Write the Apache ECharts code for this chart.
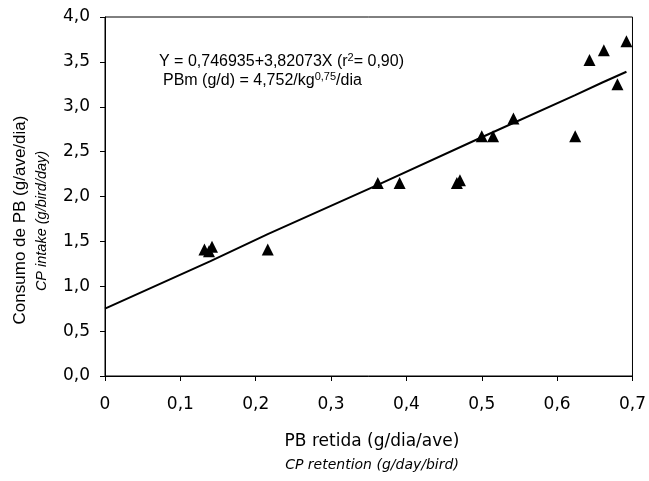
<!DOCTYPE html>
<html><head><meta charset="utf-8">
<script src="https://cdn.jsdelivr.net/npm/echarts@6/dist/echarts.min.js"></script>
<style>html,body{margin:0;padding:0;background:#fff}#c{width:649px;height:481px}</style>
</head><body><div id="c"></div>
<script>
var xValues = [0.132, 0.138, 0.142, 0.216, 0.362, 0.391, 0.467, 0.471, 0.500, 0.515, 0.542, 0.624, 0.643, 0.662, 0.680, 0.692];
var yValues = [1.41, 1.39, 1.44, 1.41, 2.15, 2.15, 2.15, 2.18, 2.67, 2.67, 2.87, 2.67, 3.52, 3.63, 3.25, 3.73];
var lineX = [0, 0.14, 0.216, 0.362, 0.5, 0.624, 0.66, 0.692];
var lineY = [0.75, 1.28, 1.58, 2.13, 2.66, 3.13, 3.27, 3.39];
var xTicks = ['0', '0,1', '0,2', '0,3', '0,4', '0,5', '0,6', '0,7'];
var yTicks = ['0,0', '0,5', '1,0', '1,5', '2,0', '2,5', '3,0', '3,5', '4,0'];

var pts = xValues.map(function (x, i) { return [x, yValues[i]]; });
var linePts = lineX.map(function (x, i) { return [x, lineY[i]]; });
var FONT = 'Liberation Sans, Arial, sans-serif';
var WIDE = 'DejaVu Sans, sans-serif';
var richEq = {
  a: {fontSize: 16, fontFamily: FONT, fill: '#000', lineHeight: 20, verticalAlign: 'middle'},
  s: {fontSize: 11, fontFamily: FONT, fill: '#000', lineHeight: 11, verticalAlign: 'top'}
};

var chart = echarts.init(document.getElementById('c'), null, {renderer: 'canvas'});
chart.setOption({
  animation: false,
  backgroundColor: '#fff',
  grid: {left: 105, right: 15, top: 17, bottom: 105, show: true, borderColor: '#000', borderWidth: 1, backgroundColor: 'transparent'},
  xAxis: {
    type: 'value', min: 0, max: 0.7, interval: 0.1,
    axisLine: {lineStyle: {color: '#000', width: 1}},
    axisTick: {show: true, inside: false, length: 5, lineStyle: {color: '#000'}},
    splitLine: {show: false},
    axisLabel: {color: '#000', fontSize: 17, fontFamily: WIDE, margin: 20,
      formatter: function (v) { return xTicks[Math.round(v * 10)]; }}
  },
  yAxis: {
    type: 'value', min: 0, max: 4, interval: 0.5,
    axisLine: {show: true, lineStyle: {color: '#000', width: 1}},
    axisTick: {show: true, inside: false, length: 5, lineStyle: {color: '#000'}},
    splitLine: {show: false},
    axisLabel: {color: '#000', fontSize: 17, fontFamily: WIDE, margin: 15,
      formatter: function (v) { return yTicks[Math.round(v * 2)]; }}
  },
  series: [
    {type: 'line', data: linePts, symbol: 'none', lineStyle: {color: '#000', width: 2}, z: 2},
    {type: 'scatter', data: pts, symbol: 'triangle', symbolSize: 12, itemStyle: {color: '#000', opacity: 1}, z: 3}
  ],
  graphic: [
    {type: 'text', left: 159, top: 52, style: {
      text: '{a|Y = 0,746935+3,82073X (r}{s|2}{a|= 0,90)}', rich: richEq}},
    {type: 'text', left: 163, top: 71, style: {
      text: '{a|PBm (g/d) = 4,752/kg}{s|0,75}{a|/dia}', rich: richEq}},
    {type: 'text', x: 20, y: 220, rotation: Math.PI / 2, style: {
      text: 'Consumo de PB (g/ave/dia)', fontSize: 17, fontFamily: FONT, fill: '#000', textAlign: 'center', textVerticalAlign: 'middle'}},
    {type: 'text', x: 42, y: 221, rotation: Math.PI / 2, style: {
      text: 'CP intake (g/bird/day)', fontSize: 14.5, fontStyle: 'italic', fontFamily: FONT, fill: '#000', textAlign: 'center', textVerticalAlign: 'middle'}},
    {type: 'text', x: 372, y: 442, style: {
      text: 'PB retida (g/dia/ave)', fontSize: 17, fontFamily: WIDE, fill: '#000', textAlign: 'center', textVerticalAlign: 'middle'}},
    {type: 'text', x: 372, y: 465, style: {
      text: 'CP retention (g/day/bird)', fontSize: 14, fontStyle: 'italic', fontFamily: WIDE, fill: '#000', textAlign: 'center', textVerticalAlign: 'middle'}}
  ]
});
</script></body></html>
